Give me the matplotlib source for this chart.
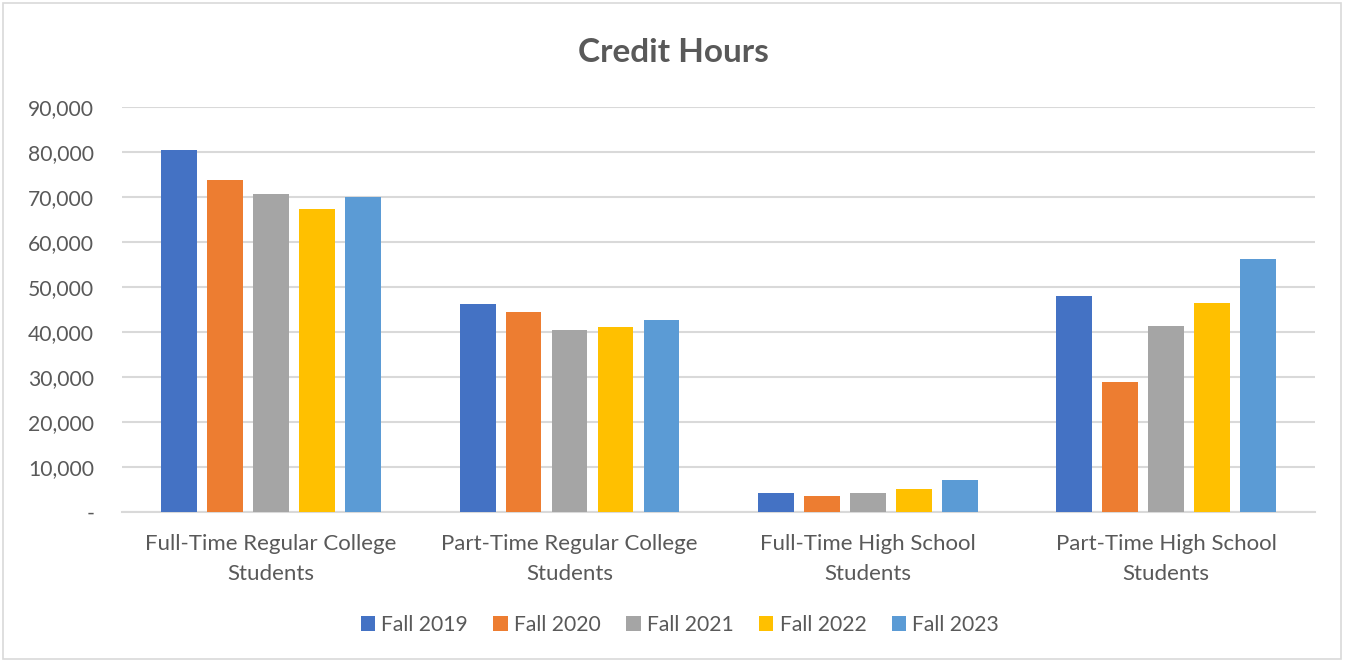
import matplotlib
matplotlib.use("Agg")
import matplotlib.pyplot as plt
import numpy as np
from matplotlib.ticker import FuncFormatter, MultipleLocator
from matplotlib.patches import Rectangle

# ── Data ─────────────────────────────────────────────────────────────
categories = [
    "Full-Time Regular College\nStudents",
    "Part-Time Regular College\nStudents",
    "Full-Time High School\nStudents",
    "Part-Time High School\nStudents",
]
terms = ["Fall 2019", "Fall 2020", "Fall 2021", "Fall 2022", "Fall 2023"]
fall_2019 = [80400, 46200, 4200, 48000]
fall_2020 = [73700, 44400, 3500, 28900]
fall_2021 = [70600, 40400, 4200, 41300]
fall_2022 = [67300, 41100, 5100, 46400]
fall_2023 = [69900, 42600, 7100, 56200]
series = [fall_2019, fall_2020, fall_2021, fall_2022, fall_2023]

colors = ["#4472C4", "#ED7D31", "#A5A5A5", "#FFC000", "#5B9BD5"]
text_color = "#595959"
grid_color = "#D9D9D9"

plt.rcParams["font.family"] = ["Lato", "DejaVu Sans"]

fig = plt.figure(figsize=(13.45, 6.6), dpi=100)
ax = fig.add_axes([0.0907, 0.2242, 0.8873, 0.6141])

x = np.arange(len(categories))
step = 0.154
width = 0.12
for i, (label, vals) in enumerate(zip(terms, series)):
    ax.bar(x + (i - 2) * step, vals, width=width, color=colors[i], label=label, zorder=3)

ax.set_xlim(-0.5, 3.5)
ax.set_ylim(0, 90000)
ax.yaxis.set_major_locator(MultipleLocator(10000))
ax.yaxis.set_major_formatter(FuncFormatter(lambda v, _: "-" if v == 0 else f"{v:,.0f}"))
ax.grid(axis="y", color=grid_color, linewidth=1.5, zorder=0)
ax.set_xticks(x)
ax.set_xticklabels(categories, fontsize=16, color=text_color, linespacing=1.6)
ax.tick_params(axis="y", length=0, labelsize=15.2, labelcolor=text_color, pad=20)
ax.tick_params(axis="x", length=0, labelcolor=text_color, pad=16)
for side in ["top", "right", "left"]:
    ax.spines[side].set_visible(False)
ax.spines["bottom"].set_color(grid_color)
ax.spines["bottom"].set_linewidth(1.5)

fig.text(0.501, 0.921, "Credit Hours", ha="center", va="center",
         fontsize=24, fontweight="bold", color=text_color)

fig.legend(loc="center", bbox_to_anchor=(0.5055, 0.053), ncol=5, frameon=False,
           fontsize=15.2, labelcolor=text_color, handlelength=0.68, handleheight=0.68,
           handletextpad=0.3, columnspacing=1.2)

fig.patches.append(Rectangle((0.002, 0.002), 0.995, 0.994, transform=fig.transFigure,
                             fill=False, edgecolor=grid_color, linewidth=1.2))

fig.savefig("out.png", dpi=100)
